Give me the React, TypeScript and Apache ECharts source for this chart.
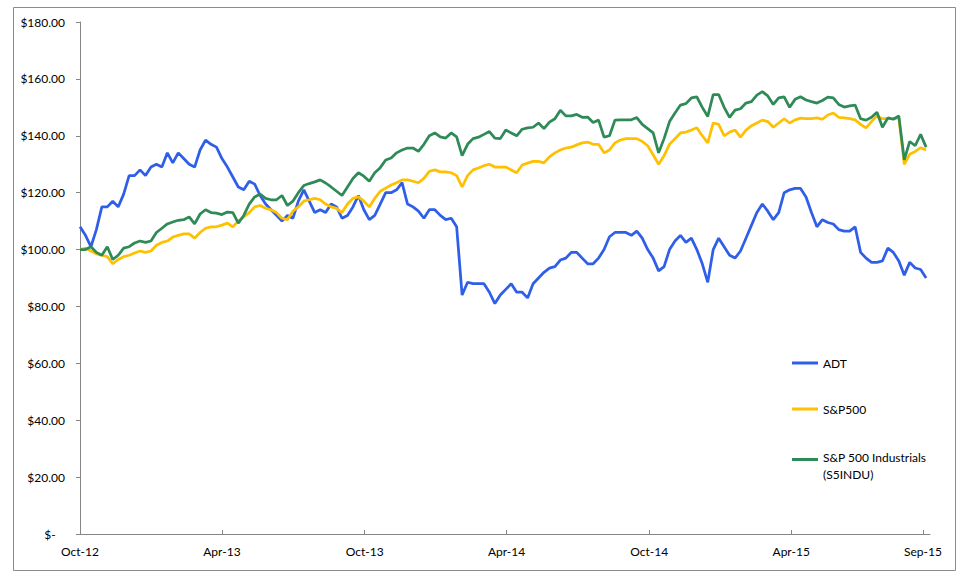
import React, { useEffect, useRef } from "react";
import * as echarts from "echarts";

// Weekly observations; x = days since 2012-10-01
const WEEK_DAYS = 7;
const AXIS_MAX_DAYS = 1090;

const adt = [
  108, 105, 101, 107, 115, 115, 117, 115, 119.5, 126,
  126, 128, 126, 129, 130, 129, 134, 130.5, 134, 132,
  130, 129, 135, 138.5, 137, 136, 132, 129, 125.5, 122,
  121, 124, 123, 119, 116, 114, 112, 110, 112, 111,
  117, 121, 117, 113, 114, 113, 116, 115, 111, 112,
  115, 119, 114, 110.5, 112, 116, 120, 120, 121, 123.5,
  116, 115, 113.5, 111, 114, 114, 112, 110.5, 111, 108,
  84, 88.5, 88, 88, 88, 85, 81, 84, 86, 88,
  85, 85, 83, 88, 90, 92, 93.5, 94, 96.3, 97,
  99, 99, 97, 95, 95, 97, 100, 104.5, 106, 106,
  106, 105, 106.5, 104, 100, 97, 92.5, 94, 100, 103,
  105, 102.5, 104, 100, 95, 88.5, 100, 104, 101, 98,
  97, 99.5, 104, 108.5, 113, 116, 113.5, 110.5, 113, 120,
  121, 121.5, 121.5, 118.5, 113, 108, 110.5, 109.5, 109, 107,
  106.5, 106.5, 108, 99, 97, 95.5, 95.5, 96, 100.5, 99,
  96, 91, 95.5, 93.5, 93, 90,
];

const sp500 = [
  100, 100.5, 99.5, 98.5, 98, 97.5, 95, 96.5, 97.5, 98,
  98.8, 99.5, 99, 99.5, 101.5, 102.5, 103, 104.4, 105, 105.5,
  105.5, 104, 106, 107.5, 108, 108, 108.6, 109.3, 108, 110,
  111.5, 113, 115, 115.5, 114.5, 114, 113, 111, 110.5, 113.5,
  115, 117, 117.5, 118, 117.5, 116, 115, 114.5, 113, 116,
  118, 118.5, 117, 115, 118, 120.5, 121.6, 122.7, 123.5, 124.5,
  124.5, 124, 123.5, 125, 127.5, 128, 127.3, 127.3, 127, 126,
  122, 126, 128, 128.7, 129.5, 130, 129, 129, 129, 128,
  127, 129.7, 130.4, 131, 131, 130.5, 132.6, 134, 135, 135.7,
  136, 136.8, 137.5, 137.8, 137, 137, 134, 135, 137.5, 138.5,
  139, 139, 139, 138, 136.5, 133.3, 130, 133, 137, 139,
  141, 141.3, 142, 142.8, 140, 137.5, 144.5, 144, 140, 141.3,
  142, 139.5, 142, 143.5, 144.5, 145.5, 145, 143, 144.5, 146,
  144.5, 145.6, 146.2, 146, 146, 146.3, 145.8, 147.3, 148, 146.5,
  146.3, 146, 145.6, 144, 142.8, 145, 147, 146, 146, 146,
  146.3, 130, 133.5, 134.5, 135.8, 135,
];

const industrials = [
  100, 100, 101, 99, 98, 101, 96.5, 98, 100.5, 101,
  102.3, 103, 102.5, 103, 106, 107.5, 109, 109.7, 110.3, 110.5,
  111.5, 109, 112.5, 114, 113, 112.8, 112.3, 113.2, 113, 109.3,
  112, 116, 118.5, 119.5, 118, 117.5, 117.5, 119, 115.5, 117,
  120, 122.5, 123.2, 123.8, 124.5, 123.4, 122, 120.5, 119, 122,
  125, 127, 125.8, 124, 127, 128.8, 131.5, 132.2, 134, 135,
  135.7, 135.7, 134.5, 137, 140, 141, 139.6, 139.2, 141, 139.6,
  133, 137, 139, 139.5, 140.5, 141.5, 139.2, 139, 142, 141,
  140, 142.3, 142.8, 143, 144.5, 142.5, 144.8, 146, 149, 147,
  147, 147.5, 146.5, 146.6, 144.7, 145.5, 139.5, 140, 145.5, 145.6,
  145.6, 145.6, 146.4, 144, 142.5, 141, 134, 139, 145, 148,
  150.8, 151.3, 153.3, 153.7, 150, 146.8, 154.5, 154.5, 150, 146.5,
  149, 149.5, 151.5, 152, 154.3, 155.5, 154, 151, 153.3, 153.7,
  150, 152.8, 153.7, 152.6, 152, 151.5, 152.4, 153.6, 153.3, 151,
  150.1, 150.5, 150.8, 146, 145.5, 146.5, 148.3, 143, 146.3, 145.8,
  147, 131.5, 138, 136.5, 140.5, 136,
];

const seriesNames = ["ADT", "S&P500", "S&P 500 Industrials (S5INDU)"];
const seriesColors = ["#2F5FE8", "#FFC000", "#2E8B57"];

// tick positions (days since 2012-10-01) and their labels
const xTickDays = [0, 182, 365, 547, 730, 912, 1081];
const xTickLabels = ["Oct-12", "Apr-13", "Oct-13", "Apr-14", "Oct-14", "Apr-15", "Sep-15"];

const FONT = "Lato, 'Open Sans', sans-serif";

function toPairs(vals: number[]) {
  return vals.map((v, i) => [i * WEEK_DAYS, v]);
}

export default function App() {
  const ref = useRef<HTMLDivElement>(null);
  useEffect(() => {
    if (!ref.current) return;
    const chart = echarts.init(ref.current, null, { renderer: "svg" });
    const allData = [adt, sp500, industrials];
    const legendBase = {
      orient: "vertical" as const,
      left: 792,
      padding: 0,
      itemWidth: 26,
      itemHeight: 3,
      textStyle: { fontFamily: FONT, fontSize: 12, color: "#000" },
      selectedMode: false,
    };
    chart.setOption({
      animation: false,
      backgroundColor: "#fff",
      grid: { left: 80, right: 35, top: 22, bottom: 46, containLabel: false },
      graphic: [
        {
          type: "rect",
          silent: true,
          z: -10,
          shape: { x: 13.5, y: 7.5, width: 942, height: 563 },
          style: { fill: "none", stroke: "#8C8C8C", lineWidth: 1 },
        },
      ],
      legend: [
        { ...legendBase, top: 357, data: [{ name: seriesNames[0], icon: "rect" }] },
        { ...legendBase, top: 403, data: [{ name: seriesNames[1], icon: "rect" }] },
        {
          ...legendBase,
          top: 449,
          itemHeight: 17,
          data: [
            {
              name: seriesNames[2],
              icon: "path://M0,0H28V3H0Z M0,17H0.01V17.01H0Z",
            },
          ],
          formatter: () => "S&P 500 Industrials\n(S5INDU)",
          textStyle: { fontFamily: FONT, fontSize: 12, color: "#000", lineHeight: 17 },
        },
      ],
      xAxis: {
        type: "value",
        min: 0,
        max: AXIS_MAX_DAYS,
        splitLine: { show: false },
        axisLine: { lineStyle: { color: "#868686", width: 1 } },
        axisTick: {
          show: true,
          inside: true,
          length: 4,
          customValues: xTickDays,
          lineStyle: { color: "#868686" },
        },
        axisLabel: {
          customValues: xTickDays,
          hideOverlap: false,
          fontFamily: FONT,
          fontSize: 12,
          color: "#000",
          margin: 11,
          formatter: (v: number) => {
            const i = xTickDays.indexOf(v);
            return i >= 0 ? xTickLabels[i] : "";
          },
        },
      },
      yAxis: {
        type: "value",
        min: 0,
        max: 180,
        interval: 20,
        splitLine: { show: false },
        axisLine: { show: true, lineStyle: { color: "#868686", width: 1 } },
        axisTick: { show: true, length: 4, lineStyle: { color: "#868686" } },
        axisLabel: {
          fontFamily: FONT,
          fontSize: 12,
          color: "#000",
          margin: 15,
          formatter: (v: number) => (v === 0 ? "$-   " : "$" + v.toFixed(2)),
        },
      },
      series: allData.map((vals, i) => ({
        name: seriesNames[i],
        type: "line",
        data: toPairs(vals),
        showSymbol: false,
        symbol: "none",
        color: seriesColors[i],
        lineStyle: { color: seriesColors[i], width: 2.75 },
        z: 2 + i,
      })),
    });
    return () => chart.dispose();
  }, []);
  return (
    <div
      ref={ref}
      style={{ position: "absolute", left: 0, top: 0, width: 965, height: 580, background: "#fff" }}
    />
  );
}
